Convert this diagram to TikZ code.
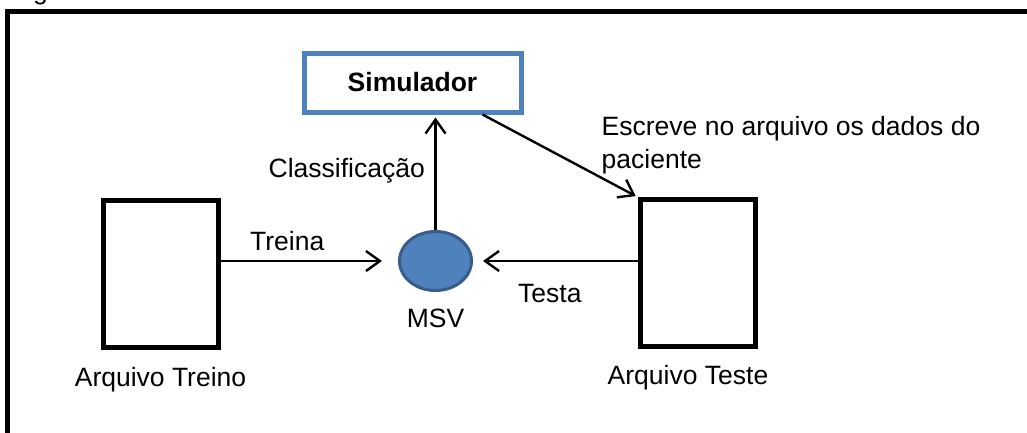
\documentclass[tikz,border=0pt]{standalone}
\usepackage{fontspec}
\setmainfont{Liberation Sans}
\usetikzlibrary{arrows.meta,shapes.geometric}
\definecolor{simblue}{HTML}{4F81BD}
\definecolor{msvedge}{HTML}{385D8A}
\newcommand\figfont{\fontsize{26.5}{33.3}\selectfont}

\begin{document}
\begin{tikzpicture}[
x=1pt,y=-1pt,
every node/.style={font=\figfont,inner sep=0pt},
filebox/.style={draw,line width=5pt,minimum width=115pt,minimum height=147pt},
flow/.style={line width=2.4pt,-{Straight Barb[length=14pt,width=20pt]}}
]
\useasboundingbox (0,0) rectangle (1027,432);
\clip (0,0) rectangle (1027,432);
\node[anchor=base west] (cut) at (33,-1) {g};
\draw[line width=5pt] (7.5,11.5) rectangle (1100,500);

\node[draw=simblue,line width=5pt,minimum width=217pt,minimum height=59pt,
      font=\figfont\bfseries] (sim) at (412.5,82.5) {Simulador};
\node[ellipse,draw=msvedge,fill=simblue,line width=3pt,
      minimum width=72pt,minimum height=59pt] (msv) at (435.5,261) {};
\node[filebox] (treino) at (160.75,273.5) {};
\node[filebox] (teste) at (697.5,273) {};

% textos
\node[anchor=base] (arqtreino) at (160.5,386.5) {Arquivo Treino};
\node[anchor=base] (arqteste) at (688,384) {Arquivo Teste};
\node[anchor=base] (msvlbl) at (435.5,327) {MSV};
\node[anchor=base west] (treina) at (250,250) {Treina};
\node[anchor=base west] (testa) at (518,302.3) {Testa};
\node[anchor=base west] (classif) at (268.5,177.3) {Classificação};
\node[anchor=base west,align=left] (escreve) at (601.5,168.3)
  {Escreve no arquivo os dados do\\paciente};

% setas
\draw[flow,shorten >=16pt] (treino.east |- msv) -- (msv);
\draw[flow,shorten >=10pt] (teste.west |- msv) -- (msv);
\draw[flow,shorten >=3pt] (msv.north) -- (msv.north |- sim.south);
\draw[flow,shorten >=2pt] ([xshift=70pt]sim.south) -- (teste.north west);
\end{tikzpicture}
\end{document}
